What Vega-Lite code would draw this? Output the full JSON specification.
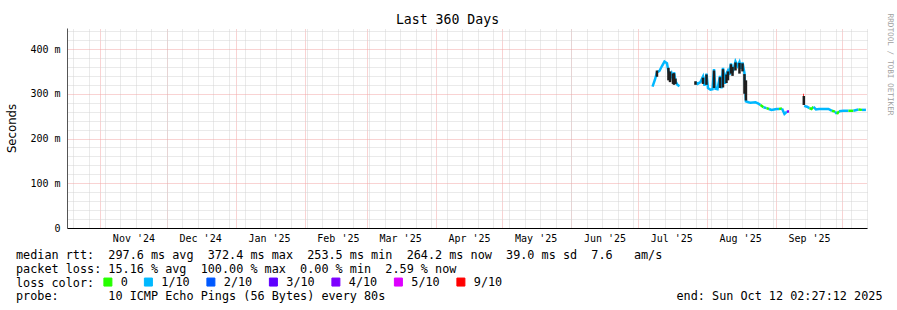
{
  "$schema": "https://vega.github.io/schema/vega-lite/v6.json",
  "width": 800,
  "height": 200,
  "autosize": {"type": "none"},
  "padding": {"left": 67, "top": 28, "right": 30, "bottom": 82},
  "background": "white",
  "config": {"view": {"stroke": null}, "font": "DejaVu Sans Mono"},
  "title": {"text": "Last 360 Days", "font": "DejaVu Sans Mono", "fontSize": 13.2, "fontWeight": "normal", "color": "black", "anchor": "middle", "frame": "group", "baseline": "alphabetic", "offset": -24, "dx": -19.5},
  "datasets": {
    "median": [
      {"t": "2025-07-07T14:00", "v": 316, "loss": "1/10", "seg": 1},
      {"t": "2025-07-08T17:00", "v": 332, "loss": "1/10", "seg": 1},
      {"t": "2025-07-09T14:00", "v": 348, "loss": "1/10", "seg": 1},
      {"t": "2025-07-10T17:00", "v": 351, "loss": "1/10", "seg": 1},
      {"t": "2025-07-11T20:00", "v": 362, "loss": "1/10", "seg": 1},
      {"t": "2025-07-12T23:00", "v": 372, "loss": "1/10", "seg": 1},
      {"t": "2025-07-14T02:00", "v": 368, "loss": "1/10", "seg": 1},
      {"t": "2025-07-14T18:00", "v": 350, "loss": "1/10", "seg": 1},
      {"t": "2025-07-15T11:00", "v": 338, "loss": "1/10", "seg": 1},
      {"t": "2025-07-16T03:00", "v": 345, "loss": "1/10", "seg": 1},
      {"t": "2025-07-16T19:00", "v": 330, "loss": "1/10", "seg": 1},
      {"t": "2025-07-17T06:00", "v": 348, "loss": "1/10", "seg": 1},
      {"t": "2025-07-17T22:00", "v": 328, "loss": "1/10", "seg": 1},
      {"t": "2025-07-18T20:00", "v": 320, "loss": "1/10", "seg": 1},
      {"t": "2025-07-19T17:00", "v": 317, "loss": "1/10", "seg": 1},
      {"t": "2025-07-26T22:00", "v": 326, "loss": "1/10", "seg": 2},
      {"t": "2025-07-27T20:00", "v": 322, "loss": "1/10", "seg": 2},
      {"t": "2025-07-29T04:00", "v": 326, "loss": "1/10", "seg": 2},
      {"t": "2025-07-30T07:00", "v": 338, "loss": "1/10", "seg": 2},
      {"t": "2025-07-30T23:00", "v": 318, "loss": "1/10", "seg": 2},
      {"t": "2025-07-31T21:00", "v": 345, "loss": "1/10", "seg": 2},
      {"t": "2025-08-01T13:00", "v": 313, "loss": "1/10", "seg": 2},
      {"t": "2025-08-02T16:00", "v": 309, "loss": "1/10", "seg": 2},
      {"t": "2025-08-03T14:00", "v": 310, "loss": "1/10", "seg": 2},
      {"t": "2025-08-04T06:00", "v": 355, "loss": "1/10", "seg": 2},
      {"t": "2025-08-04T22:00", "v": 311, "loss": "1/10", "seg": 2},
      {"t": "2025-08-05T20:00", "v": 310, "loss": "1/10", "seg": 2},
      {"t": "2025-08-06T23:00", "v": 340, "loss": "1/10", "seg": 2},
      {"t": "2025-08-07T15:00", "v": 312, "loss": "1/10", "seg": 2},
      {"t": "2025-08-08T07:00", "v": 358, "loss": "1/10", "seg": 2},
      {"t": "2025-08-09T05:00", "v": 322, "loss": "1/10", "seg": 2},
      {"t": "2025-08-09T21:00", "v": 345, "loss": "1/10", "seg": 2},
      {"t": "2025-08-10T13:00", "v": 352, "loss": "1/10", "seg": 2},
      {"t": "2025-08-11T05:00", "v": 342, "loss": "1/10", "seg": 2},
      {"t": "2025-08-11T21:00", "v": 368, "loss": "1/10", "seg": 2},
      {"t": "2025-08-12T14:00", "v": 348, "loss": "1/10", "seg": 2},
      {"t": "2025-08-13T06:00", "v": 358, "loss": "1/10", "seg": 2},
      {"t": "2025-08-13T22:00", "v": 372, "loss": "1/10", "seg": 2},
      {"t": "2025-08-14T20:00", "v": 362, "loss": "1/10", "seg": 2},
      {"t": "2025-08-15T17:00", "v": 371, "loss": "1/10", "seg": 2},
      {"t": "2025-08-16T09:00", "v": 356, "loss": "1/10", "seg": 2},
      {"t": "2025-08-17T02:00", "v": 370, "loss": "1/10", "seg": 2},
      {"t": "2025-08-17T23:00", "v": 346, "loss": "1/10", "seg": 2},
      {"t": "2025-08-18T15:00", "v": 283, "loss": "1/10", "seg": 2},
      {"t": "2025-08-19T18:00", "v": 281, "loss": "1/10", "seg": 2},
      {"t": "2025-08-20T16:00", "v": 280, "loss": "1/10", "seg": 2},
      {"t": "2025-08-22T22:00", "v": 281, "loss": "1/10", "seg": 2},
      {"t": "2025-08-24T06:00", "v": 278, "loss": "1/10", "seg": 2},
      {"t": "2025-08-25T04:00", "v": 275, "loss": "1/10", "seg": 2},
      {"t": "2025-08-25T04:00", "v": 275, "loss": "0", "seg": 3},
      {"t": "2025-08-26T12:00", "v": 270, "loss": "0", "seg": 3},
      {"t": "2025-08-26T12:00", "v": 270, "loss": "1/10", "seg": 4},
      {"t": "2025-08-27T21:00", "v": 268, "loss": "1/10", "seg": 4},
      {"t": "2025-08-27T21:00", "v": 268, "loss": "0", "seg": 5},
      {"t": "2025-08-29T00:00", "v": 266, "loss": "0", "seg": 5},
      {"t": "2025-08-29T00:00", "v": 266, "loss": "1/10", "seg": 6},
      {"t": "2025-08-30T03:00", "v": 264, "loss": "1/10", "seg": 6},
      {"t": "2025-08-31T06:00", "v": 265, "loss": "1/10", "seg": 6},
      {"t": "2025-09-01T09:00", "v": 266, "loss": "1/10", "seg": 6},
      {"t": "2025-09-02T12:00", "v": 266, "loss": "1/10", "seg": 6},
      {"t": "2025-09-02T12:00", "v": 266, "loss": "0", "seg": 7},
      {"t": "2025-09-03T20:00", "v": 267, "loss": "0", "seg": 7},
      {"t": "2025-09-03T20:00", "v": 267, "loss": "1/10", "seg": 8},
      {"t": "2025-09-04T23:00", "v": 255, "loss": "1/10", "seg": 8},
      {"t": "2025-09-06T02:00", "v": 260, "loss": "1/10", "seg": 8},
      {"t": "2025-09-06T02:00", "v": 260, "loss": "4/10", "seg": 9},
      {"t": "2025-09-07T00:00", "v": 261, "loss": "4/10", "seg": 9},
      {"t": "2025-09-13T08:00", "v": 297, "loss": "9/10", "seg": 10},
      {"t": "2025-09-13T16:00", "v": 297, "loss": "9/10", "seg": 10},
      {"t": "2025-09-13T20:00", "v": 273, "loss": "1/10", "seg": 11},
      {"t": "2025-09-15T02:00", "v": 271, "loss": "1/10", "seg": 11},
      {"t": "2025-09-16T05:00", "v": 268, "loss": "1/10", "seg": 11},
      {"t": "2025-09-16T05:00", "v": 268, "loss": "0", "seg": 12},
      {"t": "2025-09-17T03:00", "v": 266, "loss": "0", "seg": 12},
      {"t": "2025-09-18T00:00", "v": 271, "loss": "0", "seg": 12},
      {"t": "2025-09-18T00:00", "v": 271, "loss": "1/10", "seg": 13},
      {"t": "2025-09-19T03:00", "v": 265, "loss": "1/10", "seg": 13},
      {"t": "2025-09-20T12:00", "v": 266, "loss": "1/10", "seg": 13},
      {"t": "2025-09-22T12:00", "v": 266, "loss": "1/10", "seg": 13},
      {"t": "2025-09-24T18:00", "v": 266, "loss": "1/10", "seg": 13},
      {"t": "2025-09-26T08:00", "v": 262, "loss": "1/10", "seg": 13},
      {"t": "2025-09-26T08:00", "v": 262, "loss": "0", "seg": 14},
      {"t": "2025-09-27T17:00", "v": 260, "loss": "0", "seg": 14},
      {"t": "2025-09-27T17:00", "v": 260, "loss": "1/10", "seg": 15},
      {"t": "2025-09-28T14:00", "v": 255, "loss": "1/10", "seg": 15},
      {"t": "2025-09-28T14:00", "v": 255, "loss": "0", "seg": 16},
      {"t": "2025-09-29T12:00", "v": 261, "loss": "0", "seg": 16},
      {"t": "2025-09-29T12:00", "v": 261, "loss": "1/10", "seg": 17},
      {"t": "2025-10-01T12:00", "v": 262, "loss": "1/10", "seg": 17},
      {"t": "2025-10-03T18:00", "v": 262, "loss": "1/10", "seg": 17},
      {"t": "2025-10-03T18:00", "v": 262, "loss": "0", "seg": 18},
      {"t": "2025-10-06T00:00", "v": 262, "loss": "0", "seg": 18},
      {"t": "2025-10-06T00:00", "v": 262, "loss": "1/10", "seg": 19},
      {"t": "2025-10-08T06:00", "v": 265, "loss": "1/10", "seg": 19},
      {"t": "2025-10-08T06:00", "v": 265, "loss": "0", "seg": 20},
      {"t": "2025-10-09T20:00", "v": 264, "loss": "0", "seg": 20},
      {"t": "2025-10-09T20:00", "v": 264, "loss": "1/10", "seg": 21},
      {"t": "2025-10-11T15:00", "v": 264, "loss": "1/10", "seg": 21}
    ],
    "smoke": [
      {"t": "2025-07-09T14:00", "lo": 338, "hi": 352},
      {"t": "2025-07-14T18:00", "lo": 330, "hi": 358},
      {"t": "2025-07-15T11:00", "lo": 326, "hi": 350},
      {"t": "2025-07-16T19:00", "lo": 322, "hi": 345},
      {"t": "2025-07-17T06:00", "lo": 320, "hi": 346},
      {"t": "2025-07-17T22:00", "lo": 322, "hi": 334},
      {"t": "2025-07-26T22:00", "lo": 320, "hi": 328},
      {"t": "2025-07-30T07:00", "lo": 322, "hi": 336},
      {"t": "2025-07-31T21:00", "lo": 320, "hi": 343},
      {"t": "2025-08-04T06:00", "lo": 313, "hi": 352},
      {"t": "2025-08-06T23:00", "lo": 313, "hi": 337},
      {"t": "2025-08-08T07:00", "lo": 314, "hi": 355},
      {"t": "2025-08-09T21:00", "lo": 324, "hi": 343},
      {"t": "2025-08-10T13:00", "lo": 330, "hi": 350},
      {"t": "2025-08-11T21:00", "lo": 345, "hi": 366},
      {"t": "2025-08-12T14:00", "lo": 340, "hi": 360},
      {"t": "2025-08-13T22:00", "lo": 352, "hi": 370},
      {"t": "2025-08-15T17:00", "lo": 345, "hi": 369},
      {"t": "2025-08-17T02:00", "lo": 350, "hi": 368},
      {"t": "2025-08-17T23:00", "lo": 300, "hi": 344},
      {"t": "2025-08-18T15:00", "lo": 285, "hi": 330},
      {"t": "2025-09-13T16:00", "lo": 275, "hi": 295}
    ]
  },
  "resolve": {"axis": {"x": "independent", "y": "independent"}},
  "layer": [
    {
      "data": {"name": "median"},
      "mark": {"type": "line", "strokeWidth": 2.5},
      "encoding": {
        "x": {
          "field": "t", "type": "temporal",
          "scale": {"domain": [{"year": 2024, "month": 10, "date": 17, "hours": 2, "minutes": 27, "seconds": 12}, {"year": 2025, "month": 10, "date": 12, "hours": 2, "minutes": 27, "seconds": 12}], "nice": false},
          "axis": {"orient": "top", "tickCount": {"interval": "month", "step": 1}, "grid": true, "gridColor": "#f2a6a6", "gridDash": [1, 1], "gridOpacity": 1, "gridWidth": 1, "labels": false, "ticks": false, "domain": false, "title": null}
        },
        "y": {
          "field": "v", "type": "quantitative",
          "scale": {"domain": [0, 447], "nice": false, "zero": false},
          "axis": {"orient": "left", "values": [0, 100, 200, 300, 400], "grid": true, "gridColor": "#f2a6a6", "gridDash": [1, 1], "gridOpacity": 1, "labelExpr": "datum.value == 0 ? '0\u00a0\u00a0' : datum.value + '\u00a0m'", "labelFont": "DejaVu Sans Mono", "labelFontSize": 10, "labelColor": "#000000", "labelPadding": 7, "ticks": false, "domain": true, "domainColor": "#555555", "title": "Seconds", "titleFont": "DejaVu Sans", "titleFontSize": 11.7, "titleFontWeight": "normal", "titleColor": "#000000", "titleX": -56, "titleY": 100, "titleAngle": 270, "titleAlign": "center", "titleBaseline": "middle"}
        },
        "color": {
          "field": "loss", "type": "nominal",
          "scale": {"domain": ["0", "1/10", "2/10", "3/10", "4/10", "5/10", "9/10"], "range": ["#26ff00", "#00b8ff", "#0059ff", "#5e00ff", "#7e00ff", "#dd00ff", "#ff0000"]},
          "legend": {"orient": "none", "legendX": 35, "legendY": 248, "direction": "horizontal", "title": null, "symbolType": "square", "symbolSize": 64, "labelFont": "DejaVu Sans Mono", "labelFontSize": 11.8, "labelColor": "#000000", "labelOffset": 7, "columnPadding": 13.5, "padding": 0,
            "encode": {"symbols": {"update": {"fill": {"scale": "color", "field": "value"}, "stroke": {"value": "#000000"}, "strokeWidth": {"value": 1}, "opacity": {"value": 1}, "fillOpacity": {"value": 1}}}}}
        },
        "detail": {"field": "seg", "type": "nominal"}
      }
    },
    {
      "data": {"name": "smoke"},
      "mark": {"type": "rule", "color": "#1e1e1e", "strokeWidth": 2.5},
      "encoding": {
        "x": {
          "field": "t", "type": "temporal",
          "scale": {"domain": [{"year": 2024, "month": 10, "date": 17, "hours": 2, "minutes": 27, "seconds": 12}, {"year": 2025, "month": 10, "date": 12, "hours": 2, "minutes": 27, "seconds": 12}], "nice": false},
          "axis": {"orient": "top", "tickCount": {"interval": "week", "step": 1}, "grid": true, "gridColor": "#d4d4d4", "gridDash": [1, 1], "gridOpacity": 1, "gridWidth": 1, "labels": false, "ticks": false, "domain": false, "title": null}
        },
        "y": {
          "field": "lo", "type": "quantitative",
          "scale": {"domain": [0, 447], "nice": false, "zero": false},
          "axis": {"orient": "right", "values": [20, 40, 60, 80, 120, 140, 160, 180, 220, 240, 260, 280, 320, 340, 360, 380, 420, 440], "grid": true, "gridColor": "#d4d4d4", "gridDash": [1, 1], "gridOpacity": 1, "labels": false, "ticks": false, "domain": false, "title": "RRDTOOL / TOBI OETIKER", "titleFont": "DejaVu Sans Mono", "titleFontSize": 7.7, "titleFontWeight": "normal", "titleColor": "#a0a0a0", "titleAngle": 90, "titleX": 22, "titleY": 36, "titleAlign": "center", "titleBaseline": "middle"}
        },
        "y2": {"field": "hi"}
      }
    },
    {
      "mark": {"type": "point", "shape": "triangle-right", "size": 30, "filled": true, "color": "#7f1010", "opacity": 1},
      "encoding": {
        "x": {
          "datum": {"year": 2025, "month": 10, "date": 13, "hours": 22}, "type": "temporal",
          "scale": {"domain": [{"year": 2024, "month": 10, "date": 17, "hours": 2, "minutes": 27, "seconds": 12}, {"year": 2025, "month": 10, "date": 12, "hours": 2, "minutes": 27, "seconds": 12}], "nice": false},
          "axis": {"orient": "bottom",
            "values": [{"year": 2024, "month": 11, "date": 16}, {"year": 2024, "month": 12, "date": 16}, {"year": 2025, "month": 1, "date": 16}, {"year": 2025, "month": 2, "date": 16}, {"year": 2025, "month": 3, "date": 16}, {"year": 2025, "month": 4, "date": 16}, {"year": 2025, "month": 5, "date": 16}, {"year": 2025, "month": 6, "date": 16}, {"year": 2025, "month": 7, "date": 16}, {"year": 2025, "month": 8, "date": 16}, {"year": 2025, "month": 9, "date": 16}],
            "labelExpr": "timeFormat(datum.value, \"%b\u00a0'%y\")",
            "grid": false, "ticks": false, "domain": true, "domainColor": "#000000", "domainWidth": 1,
            "labelFont": "DejaVu Sans Mono", "labelFontSize": 10, "labelColor": "#000000", "labelPadding": 5, "labelFlush": false, "labelOverlap": false,
            "title": [
              "median rtt:\u00a0\u00a0297.6 ms avg\u00a0\u00a0372.4 ms max\u00a0\u00a0253.5 ms min\u00a0\u00a0264.2 ms now\u00a0\u00a039.0 ms sd\u00a0\u00a07.6\u00a0\u00a0\u00a0am/s",
              "packet loss: 15.16 % avg\u00a0\u00a0100.00 % max\u00a0\u00a00.00 % min\u00a0\u00a02.59 % now",
              "loss color:",
              "probe:\u00a0\u00a0\u00a0\u00a0\u00a0\u00a0\u00a010 ICMP Echo Pings (56 Bytes) every 80s\u00a0\u00a0\u00a0\u00a0\u00a0\u00a0\u00a0\u00a0\u00a0\u00a0\u00a0\u00a0\u00a0\u00a0\u00a0\u00a0\u00a0\u00a0\u00a0\u00a0\u00a0\u00a0\u00a0\u00a0\u00a0\u00a0\u00a0\u00a0\u00a0\u00a0\u00a0\u00a0\u00a0\u00a0\u00a0\u00a0\u00a0\u00a0\u00a0\u00a0\u00a0end: Sun Oct 12 02:27:12 2025"
            ],
            "titleFont": "DejaVu Sans Mono", "titleFontSize": 11.8, "titleFontWeight": "normal", "titleColor": "#000000", "titleAlign": "left", "titleAnchor": "start", "titleBaseline": "alphabetic", "titleX": -51.5, "titleY": 30.5, "titleLineHeight": 13.8, "titleLimit": 1000}
        },
        "y": {"datum": 0, "type": "quantitative", "scale": {"domain": [0, 447], "nice": false, "zero": false}, "axis": null}
      }
    },
    {
      "mark": {"type": "point", "shape": "triangle-up", "size": 30, "filled": true, "color": "#7f1010", "opacity": 1},
      "encoding": {
        "x": {
          "datum": {"year": 2024, "month": 10, "date": 17, "hours": 2, "minutes": 27, "seconds": 12}, "type": "temporal",
          "scale": {"domain": [{"year": 2024, "month": 10, "date": 17, "hours": 2, "minutes": 27, "seconds": 12}, {"year": 2025, "month": 10, "date": 12, "hours": 2, "minutes": 27, "seconds": 12}], "nice": false},
          "axis": null
        },
        "y": {"datum": 456, "type": "quantitative", "scale": {"domain": [0, 447], "nice": false, "zero": false}, "axis": null}
      }
    }
  ]
}
